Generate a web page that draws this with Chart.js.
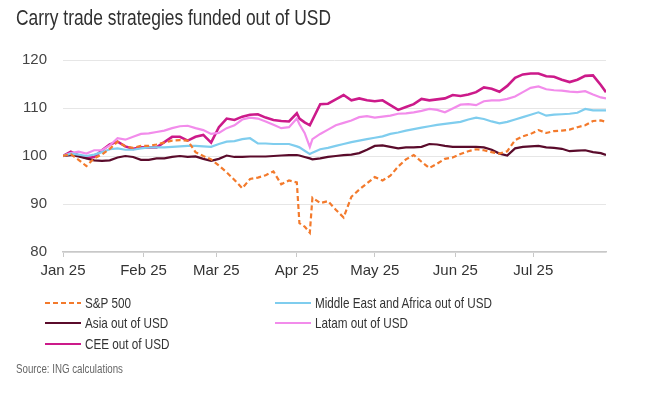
<!DOCTYPE html>
<html>
<head>
<meta charset="utf-8">
<script src="https://cdn.jsdelivr.net/npm/chart.js@4"></script>
<style>
  body { margin: 0; background: #fff; }
  #wrap { position: relative; width: 656px; height: 396px; overflow: hidden; font-family: "Liberation Sans", Arial, sans-serif; }
  #chart { position: absolute; left: 0; top: 0; }
  .txt { position: absolute; white-space: nowrap; transform-origin: 0 0; color: #333; }
  #title { left: 16px; top: 7px; font-size: 22px; line-height: 22px; transform: scaleX(0.79); color: #303030; }
  #source { left: 16px; top: 363px; font-size: 12px; line-height: 12px; transform: scaleX(0.81); color: #666; }
  .lg-mark { position: absolute; }
  .lg-text { font-size: 15px; line-height: 15px; transform: scaleX(0.78); }
</style>
</head>
<body>
<div id="wrap">
  <canvas id="chart" width="656" height="396"></canvas>
  <div id="title" class="txt">Carry trade strategies funded out of USD</div>
  <div id="legend"></div>
  <div id="source" class="txt">Source: ING calculations</div>
</div>
<script>
// days since 1 Jan 2025
const days = [0, 3, 6, 9, 12, 15, 18, 21, 24, 27,
  30, 33, 36, 39, 42, 45, 48, 51, 54, 57,
  60, 63, 66, 69, 72, 75, 78, 81, 84, 87,
  90, 91, 93, 95, 96, 99, 102, 105, 108, 111,
  114, 117, 120, 123, 126, 129, 132, 135, 138, 141,
  144, 147, 150, 153, 156, 159, 162, 165, 168, 171,
  174, 177, 180, 183, 186, 189, 192, 195, 198, 201,
  204, 207, 209];

const sp500 = [100, 100.4, 99.2, 97.9, 99.5, 100.3, 101.5, 103, 102, 101.7,
  102.1, 102.1, 102.4, 102.8, 103.2, 103.3, 103.2, 100.8, 100, 99.3,
  98, 96.6, 95, 93.3, 95.2, 95.5, 96, 96.8, 94.1, 94.9,
  94.5, 86, 85.3, 84, 91.3, 90.2, 90.6, 88.8, 87.2, 91.5,
  93, 94.3, 95.6, 94.9, 95.9, 97.8, 99.3, 100.2, 98.8, 97.5,
  98.4, 99.4, 99.7, 100.4, 101, 101.4, 101.2, 100.8, 100.5, 101,
  103.3, 104.1, 104.6, 105.4, 104.8, 105.2, 105.3, 105.5, 106, 106.4,
  107.3, 107.4, 107.1];

const asia = [100, 100.2, 99.9, 99.5, 99.1, 99, 99.1, 99.7, 100, 99.8,
  99.2, 99.2, 99.5, 99.5, 99.8, 100, 99.8, 99.9, 99.4, 99,
  99.4, 100.1, 99.8, 99.8, 99.9, 99.9, 99.9, 100, 100.1, 100.2,
  100.2, 100.1, 99.8, 99.5, 99.3, 99.5, 99.8, 100, 100.2, 100.3,
  100.6, 101.3, 102.1, 102.2, 101.9, 101.6, 101.8, 101.8, 101.9, 102.5,
  102.4, 102.1, 101.9, 101.9, 101.9, 101.9, 101.8, 101.3, 100.5, 100.1,
  101.6, 101.9, 102, 102.1, 101.8, 101.7, 101.5, 101, 101.1, 101.2,
  100.8, 100.6, 100.2];

const mea = [100, 100.5, 100.3, 100, 100.3, 100.8, 101.4, 101.6, 101.3, 101.3,
  101.6, 101.8, 101.8, 101.8, 101.9, 102, 102.1, 102.1, 102, 101.9,
  102.5, 103, 103.1, 103.5, 103.7, 102.6, 102.6, 102.5, 102.5, 102.5,
  102, 101.8, 101.1, 100.4, 100.7, 101.4, 101.7, 102.1, 102.5, 102.9,
  103.2, 103.5, 103.8, 104.1, 104.6, 104.9, 105.3, 105.6, 105.9, 106.2,
  106.5, 106.7, 106.9, 107.1, 107.6, 108, 107.7, 107.2, 106.8, 107.1,
  107.6, 108.1, 108.6, 109.1, 108.4, 108.6, 108.7, 108.8, 109, 109.8,
  109.5, 109.5, 109.5];

const latam = [100, 100.6, 100.9, 100.5, 101.2, 101.2, 102.2, 103.7, 103.4, 104,
  104.6, 104.7, 105, 105.3, 105.8, 106.2, 106.3, 105.8, 105.4, 104.6,
  104.8, 105.8, 106.4, 107.6, 108, 107.8, 107.2, 106.5, 105.8, 106,
  107.8, 106.6, 104.8, 101.9, 103.5, 104.6, 105.5, 106.4, 106.9, 107.4,
  108.1, 108.3, 108, 108.2, 108.4, 108.8, 108.9, 109.1, 109.4, 109.8,
  109.6, 109.1, 109.9, 110.7, 110.8, 110.6, 111.4, 111.6, 111.6, 111.9,
  112.4, 113.3, 114.2, 114.5, 113.9, 113.7, 113.6, 113.4, 113.3, 113.5,
  112.8, 112.2, 112];

const cee = [100, 100.9, 100.1, 99.6, 99.8, 101.2, 102.4, 103, 102, 101.5,
  101.8, 101.8, 101.8, 102.9, 104, 104, 103.2, 104, 104.4, 102.8,
  106, 107.8, 107.5, 108.2, 108.6, 108.7, 108, 107.5, 107.3, 107.2,
  108.9, 107.8, 107, 106.4, 107.5, 110.8, 110.9, 111.8, 112.7, 111.6,
  112, 111.6, 111.4, 111.6, 110.6, 109.6, 110.2, 110.8, 111.9, 111.6,
  111.8, 112, 112.7, 112.5, 112.8, 113.3, 114.3, 114, 113.4, 114.6,
  116.3, 117, 117.2, 117.2, 116.6, 116.5, 115.9, 115.4, 115.9, 116.7,
  116.8, 114.8, 113.3];

const monthDays = [0, 31, 59, 90, 120, 151, 181];
const monthLabels = ['Jan 25', 'Feb 25', 'Mar 25', 'Apr 25', 'May 25', 'Jun 25', 'Jul 25'];

const series = [
  { label: 'S&P 500', data: sp500, color: '#f37a2c', dash: [5, 3], width: 2.2 },
  { label: 'Middle East and Africa out of USD', data: mea, color: '#7fcdee', dash: [], width: 2.2 },
  { label: 'Asia out of USD', data: asia, color: '#5a0b2b', dash: [], width: 2.2 },
  { label: 'Latam out of USD', data: latam, color: '#f28ceb', dash: [], width: 2.2 },
  { label: 'CEE out of USD', data: cee, color: '#cc1a8a', dash: [], width: 2.6 }
];

const toPoints = arr => days.map((d, i) => ({ x: d, y: arr[i] }));

new Chart(document.getElementById('chart'), {
  type: 'line',
  data: {
    datasets: series.map(s => ({
      label: s.label,
      data: toPoints(s.data),
      borderColor: s.color,
      backgroundColor: s.color,
      borderWidth: s.width,
      borderDash: s.dash,
      pointRadius: 0,
      tension: 0,
      fill: false
    }))
  },
  options: {
    responsive: false,
    animation: false,
    devicePixelRatio: 1,
    layout: { padding: { top: 60, right: 50, bottom: 114, left: 0 } },
    plugins: { legend: { display: false }, tooltip: { enabled: false } },
    scales: {
      x: {
        type: 'linear',
        min: 0,
        max: 209,
        afterBuildTicks: scale => { scale.ticks = monthDays.map(v => ({ value: v })); },
        afterFit: scale => { scale.height = 30; },
        grid: { drawOnChartArea: false, drawTicks: true, tickLength: 5, color: '#c8c8c8' },
        border: { display: true, color: '#c8c8c8', width: 1.5 },
        ticks: {
          autoSkip: false,
          maxRotation: 0,
          padding: 5,
          color: '#333',
          font: { family: 'Liberation Sans', size: 15 },
          callback: v => monthLabels[monthDays.indexOf(v)]
        }
      },
      y: {
        min: 80,
        max: 120,
        afterFit: scale => { scale.width = 63; },
        grid: { color: '#e6e6e6', drawTicks: false },
        border: { display: false },
        ticks: {
          stepSize: 10,
          padding: 16,
          color: '#444',
          font: { family: 'Liberation Sans', size: 15 }
        }
      }
    }
  }
});

// legend in two columns
const legend = document.getElementById('legend');
const cols = [45, 275];
const rows = [303, 323, 344];
series.forEach((s, i) => {
  const cx = cols[i % 2];
  const cy = rows[Math.floor(i / 2)];
  const mark = document.createElementNS('http://www.w3.org/2000/svg', 'svg');
  mark.setAttribute('class', 'lg-mark');
  mark.setAttribute('width', 36);
  mark.setAttribute('height', 6);
  mark.style.left = cx + 'px';
  mark.style.top = (cy - 3) + 'px';
  mark.innerHTML = '<line x1="0" y1="3" x2="36" y2="3" stroke="' + s.color + '" stroke-width="2"' +
    (s.dash.length ? ' stroke-dasharray="' + s.dash.join(' ') + '"' : '') + '/>';
  legend.appendChild(mark);
  const t = document.createElement('div');
  t.className = 'txt lg-text';
  t.textContent = s.label;
  t.style.left = (cx + 40) + 'px';
  t.style.top = (cy - 8) + 'px';
  legend.appendChild(t);
});
</script>
</body>
</html>
